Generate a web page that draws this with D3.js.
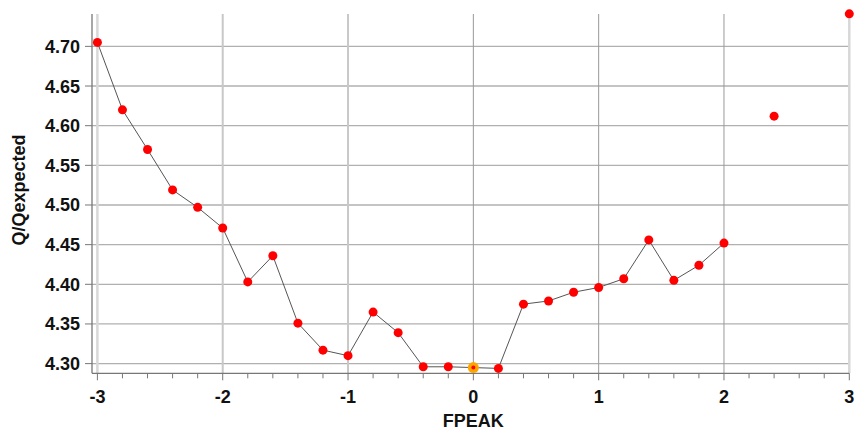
<!DOCTYPE html>
<html lang="en">

<head>
    <meta charset="UTF-8">
    <script src="https://cdnjs.cloudflare.com/ajax/libs/d3/7.8.5/d3.min.js"></script>
    <title>Q/Qexpected vs FPEAK</title>
    <style>
        body { margin: 0; background: #fff; }
        svg { display: block; font-family: "Liberation Sans", Arial, sans-serif; }
    </style>
</head>

<body>
    <svg width="855" height="429"></svg>
    <script>
        // connected series
        const fpeak = [-3, -2.8, -2.6, -2.4, -2.2, -2, -1.8, -1.6, -1.4, -1.2, -1, -0.8, -0.6, -0.4, -0.2, 0, 0.2, 0.4, 0.6, 0.8, 1, 1.2, 1.4, 1.6, 1.8, 2]
        const qRatio = [4.705, 4.620, 4.570, 4.519, 4.497, 4.471, 4.403, 4.436, 4.351, 4.317, 4.310, 4.365, 4.339, 4.296, 4.296, 4.295, 4.294, 4.375, 4.379, 4.390, 4.396, 4.407, 4.456, 4.405, 4.424, 4.452]
        // lone points, not joined
        const extraFpeak = [2.4, 3]
        const extraQ = [4.612, 4.741]
        const bestFpeak = 0

        const xTicks = [-3, -2, -1, 0, 1, 2, 3]
        const yTicks = [4.30, 4.35, 4.40, 4.45, 4.50, 4.55, 4.60, 4.65, 4.70]

        const svg = d3.select("svg")

        const x = d3.scaleLinear().domain([-3, 3]).range([97.4, 849.3])
        const y = d3.scaleLinear().domain([4.2878, 4.7408]).range([373.3, 14])
        const axisX = 92

        // grid
        svg.append("g")
            .selectAll("line")
            .data(yTicks)
            .enter()
            .append("line")
            .attr("x1", axisX)
            .attr("x2", x(3))
            .attr("y1", d => y(d))
            .attr("y2", d => y(d))
            .style("stroke", "#b0b0b0")
            .style("stroke-width", "1.3px")

        svg.append("g")
            .selectAll("line")
            .data(xTicks)
            .enter()
            .append("line")
            .attr("x1", d => x(d))
            .attr("x2", d => x(d))
            .attr("y1", y.range()[1])
            .attr("y2", y.range()[0])
            .style("stroke", d => (d === 3 || d === -3) ? "#d8d8d8" : (d < 0 ? "#c8c8c8" : "#999"))
            .style("stroke-width", d => (d === 3 || d === -3) ? "2.5px" : (d < 0 ? "2px" : "1px"))

        // axes
        svg.append("line")
            .attr("x1", axisX).attr("x2", axisX)
            .attr("y1", y.range()[1]).attr("y2", y.range()[0])
            .style("stroke", "#777").style("stroke-width", "1.3px")
        svg.append("line")
            .attr("x1", axisX).attr("x2", x(3))
            .attr("y1", y.range()[0]).attr("y2", y.range()[0])
            .style("stroke", "#777").style("stroke-width", "1.3px")

        // y ticks + labels
        const yG = svg.append("g")
        yG.selectAll("line")
            .data(yTicks)
            .enter()
            .append("line")
            .attr("x1", axisX - 7).attr("x2", axisX)
            .attr("y1", d => y(d)).attr("y2", d => y(d))
            .style("stroke", "#777")
        yG.selectAll("text")
            .data(yTicks)
            .enter()
            .append("text")
            .attr("x", 80)
            .attr("y", d => y(d) + 6.5)
            .style("text-anchor", "end")
            .style("font-size", "18px")
            .style("font-weight", "bold")
            .style("fill", "#111")
            .text(d => d.toFixed(2))

        // x ticks: minor every 0.2, labels on integers
        const minor = d3.range(-15, 16).map(i => i / 5)
        svg.append("g")
            .selectAll("line")
            .data(minor)
            .enter()
            .append("line")
            .attr("x1", d => x(d)).attr("x2", d => x(d))
            .attr("y1", y.range()[0])
            .attr("y2", d => y.range()[0] + (Number.isInteger(Math.round(d * 1000) / 1000) ? 7 : 5))
            .style("stroke", "#777")

        svg.append("g")
            .selectAll("text")
            .data(xTicks)
            .enter()
            .append("text")
            .attr("x", d => x(d))
            .attr("y", 403)
            .style("text-anchor", "middle")
            .style("font-size", "18px")
            .style("font-weight", "bold")
            .style("fill", "#111")
            .text(d => d)

        // axis titles
        svg.append("text")
            .attr("x", x(0))
            .attr("y", 426.5)
            .style("text-anchor", "middle")
            .style("font-size", "18px")
            .style("font-weight", "bold")
            .style("fill", "#111")
            .text("FPEAK")

        svg.append("text")
            .attr("transform", "translate(24.5,190) rotate(-90)")
            .style("text-anchor", "middle")
            .style("font-size", "18px")
            .style("font-weight", "bold")
            .style("fill", "#111")
            .text("Q/Qexpected")

        // line
        const pts = fpeak.map((f, i) => ({ f, q: qRatio[i] }))
        const line = d3.line().x(d => x(d.f)).y(d => y(d.q))
        svg.append("path")
            .datum(pts)
            .attr("d", line)
            .style("fill", "none")
            .style("stroke", "#555")
            .style("stroke-width", "1px")

        // points
        const allPts = pts.concat(extraFpeak.map((f, i) => ({ f, q: extraQ[i] })))
        svg.append("g")
            .selectAll("circle")
            .data(allPts)
            .enter()
            .append("circle")
            .attr("cx", d => x(d.f))
            .attr("cy", d => y(d.q))
            .attr("r", d => d.f === bestFpeak ? 5.5 : 4.5)
            .style("fill", d => d.f === bestFpeak ? "#ffa500" : "#ff0000")

        svg.append("circle")
            .attr("cx", x(bestFpeak))
            .attr("cy", y(qRatio[fpeak.indexOf(bestFpeak)]))
            .attr("r", 2)
            .style("fill", "#ff0000")
    </script>
</body>

</html>
